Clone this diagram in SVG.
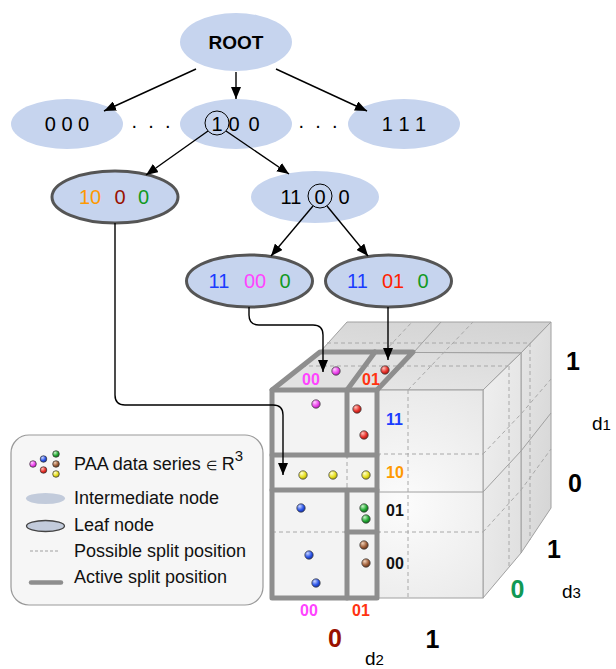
<svg xmlns="http://www.w3.org/2000/svg" width="616" height="669" viewBox="0 0 616 669">
  <defs>
    <marker id="arrow" viewBox="0 0 12 10" refX="12" refY="5" markerWidth="12" markerHeight="10" markerUnits="userSpaceOnUse" orient="auto">
      <path d="M0,0 L12,5 L0,10 z" fill="#000"/>
    </marker>
    <linearGradient id="gTopBack" x1="0" y1="1" x2="1" y2="0">
      <stop offset="0" stop-color="#dedede"/>
      <stop offset="1" stop-color="#d2d2d2"/>
    </linearGradient>
    <linearGradient id="gTopFront" x1="0" y1="1" x2="1" y2="0">
      <stop offset="0" stop-color="#e9e9e9"/>
      <stop offset="1" stop-color="#dadada"/>
    </linearGradient>
    <linearGradient id="gSideFront" x1="0" y1="0" x2="1" y2="1">
      <stop offset="0" stop-color="#f0f0f0"/>
      <stop offset="1" stop-color="#dedede"/>
    </linearGradient>
    <linearGradient id="gSideBack" x1="0" y1="0" x2="1" y2="1">
      <stop offset="0" stop-color="#e6e6e6"/>
      <stop offset="1" stop-color="#d4d4d4"/>
    </linearGradient>
    <radialGradient id="gFront" cx="0.62" cy="0.55" r="0.75">
      <stop offset="0" stop-color="#fcfcfc"/>
      <stop offset="1" stop-color="#e4e4e4"/>
    </radialGradient>
    <radialGradient id="dMag" cx="0.35" cy="0.3" r="0.75"><stop offset="0" stop-color="#ffd0ff"/><stop offset="0.6" stop-color="#ee44ee"/><stop offset="1" stop-color="#aa22aa"/></radialGradient>
    <radialGradient id="dRed" cx="0.35" cy="0.3" r="0.75"><stop offset="0" stop-color="#ffc0b8"/><stop offset="0.6" stop-color="#e8302a"/><stop offset="1" stop-color="#a01810"/></radialGradient>
    <radialGradient id="dYel" cx="0.35" cy="0.3" r="0.75"><stop offset="0" stop-color="#ffffd0"/><stop offset="0.6" stop-color="#e8e020"/><stop offset="1" stop-color="#a8a010"/></radialGradient>
    <radialGradient id="dBlu" cx="0.35" cy="0.3" r="0.75"><stop offset="0" stop-color="#c8d4ff"/><stop offset="0.6" stop-color="#2b55e8"/><stop offset="1" stop-color="#1530a0"/></radialGradient>
    <radialGradient id="dGrn" cx="0.35" cy="0.3" r="0.75"><stop offset="0" stop-color="#c8f5c8"/><stop offset="0.6" stop-color="#22aa33"/><stop offset="1" stop-color="#11661a"/></radialGradient>
    <radialGradient id="dBrn" cx="0.35" cy="0.3" r="0.75"><stop offset="0" stop-color="#f0d0b8"/><stop offset="0.6" stop-color="#a0603a"/><stop offset="1" stop-color="#603018"/></radialGradient>
  </defs>
  <style>
    .t{font-family:"Liberation Sans",Arial,Helvetica,sans-serif}
    .nt{font-size:20px;text-anchor:middle}
    .node{fill:#c6d4ee}
    .leaf{fill:#c6d4ee;stroke:#555;stroke-width:3}
    .ring{fill:none;stroke:#000;stroke-width:1}
    .edge{fill:none;stroke:#000;stroke-width:1.4}
    .ln{fill:none;stroke:#a0a0a0;stroke-width:1}
    .ds{fill:none;stroke:#a8a8a8;stroke-width:1;stroke-dasharray:4 3}
    .thick{fill:none;stroke:#8e8e8e;stroke-width:5;stroke-linejoin:round;stroke-linecap:round}
    .dot{stroke:#333;stroke-width:0.7}
    .cl{font-size:16px;font-weight:bold}
    .ax{font-size:25px;font-weight:bold;text-anchor:middle}
    .dl{font-size:19px}
    .lg{font-size:18px;fill:#111}
  </style>

  <!-- tree nodes -->
  <g id="root">
    <ellipse class="node" cx="236" cy="42" rx="56" ry="29"/>
    <text class="t" x="236" y="49" font-size="19" font-weight="bold" text-anchor="middle">ROOT</text>
  </g>
  <g id="n000">
    <ellipse class="node" cx="67" cy="124" rx="56" ry="25"/>
    <text class="t nt" x="67" y="131">0 0 0</text>
  </g>
  <g id="n100">
    <ellipse class="node" cx="236" cy="124" rx="56" ry="25"/>
    <text class="t nt" x="217" y="131">1</text>
    <text class="t nt" x="234" y="131">0</text>
    <text class="t nt" x="254" y="131">0</text>
    <circle class="ring" cx="217" cy="123" r="12"/>
  </g>
  <g id="n111">
    <ellipse class="node" cx="404" cy="124" rx="56" ry="25"/>
    <text class="t nt" x="404" y="131">1 1 1</text>
  </g>
  <g id="ellipsis">
    <text class="t nt" x="151" y="128">.&#160;&#160;.&#160;&#160;.</text>
    <text class="t nt" x="318" y="128">.&#160;&#160;.&#160;&#160;.</text>
  </g>
  <g id="leaf1000">
    <ellipse class="leaf" cx="115" cy="197" rx="63" ry="26"/>
    <text class="t nt" x="90" y="204" fill="#ff9900">10</text>
    <text class="t nt" x="120" y="204" fill="#991100">0</text>
    <text class="t nt" x="143.5" y="204" fill="#119922">0</text>
  </g>
  <g id="n1100">
    <ellipse class="node" cx="315" cy="197" rx="64" ry="26"/>
    <text class="t nt" x="291" y="204">11</text>
    <text class="t nt" x="320" y="204">0</text>
    <text class="t nt" x="344" y="204">0</text>
    <circle class="ring" cx="320" cy="196" r="12"/>
  </g>
  <g id="leaf11000">
    <ellipse class="leaf" cx="249.5" cy="281" rx="63" ry="26"/>
    <text class="t nt" x="219" y="288" fill="#1a3cff">11</text>
    <text class="t nt" x="255" y="288" fill="#ff44ff">00</text>
    <text class="t nt" x="285" y="288" fill="#119922">0</text>
  </g>
  <g id="leaf11010">
    <ellipse class="leaf" cx="388.5" cy="281" rx="63" ry="26"/>
    <text class="t nt" x="357.5" y="288" fill="#1a3cff">11</text>
    <text class="t nt" x="393" y="288" fill="#ff2200">01</text>
    <text class="t nt" x="423" y="288" fill="#119922">0</text>
  </g>

  <!-- cube of the 3-dimensional space -->
  <g id="cube">
    <polygon points="320,352 521,353 551,322 347,322" fill="url(#gTopBack)" stroke="#a0a0a0"/>
    <polygon points="521,353 551,322 551,508 521,553" fill="url(#gSideBack)" stroke="#a0a0a0"/>
    <polygon points="272,390 483,390 521,353 320,352" fill="url(#gTopFront)" stroke="#a0a0a0"/>
    <polygon points="483,390 521,353 521,553 483,598" fill="url(#gSideFront)" stroke="#a0a0a0"/>
    <rect x="272" y="390" width="211" height="208" fill="url(#gFront)" stroke="#a0a0a0"/>

    <!-- first-level splits on the visible faces -->
    <path class="ln" d="M414,352 L441,322"/>
    <path class="ln" d="M483,492 L521,451 L551,413"/>
    <path class="ln" d="M377,492 H483"/>

    <!-- possible split positions -->
    <path class="ds" d="M408,390 L473,322"/>
    <path class="ds" d="M384,352 L412,322"/>
    <path class="ds" d="M327,343 H531"/>
    <path class="ds" d="M509,366 V567"/>
    <path class="ds" d="M530,343 V540"/>
    <path class="ds" d="M483,454 L521,414 L551,379"/>
    <path class="ds" d="M483,532 L521,490 L551,449"/>
    <path class="ds" d="M377,454 H483"/>
    <path class="ds" d="M377,532 H483"/>
    <path class="ds" d="M408,390 V598"/>

    <!-- active partition block -->
    <rect x="272" y="390" width="105" height="208" fill="#f3f3f3"/>
    <polygon points="272,390 320,352 413,352 377,390" fill="#e2e2e2"/>
    <path class="ds" d="M302,366 H508"/>
    <path class="ds" d="M347,455 V490"/>
    <path class="ds" d="M272,532 H347"/>

    <path class="thick" d="M272,390 L272,598 L377,598 L377,390 Z"/>
    <path class="thick" d="M272,390 L320,352 L413,352 L377,390"/>
    <path class="thick" d="M347,390 L375,352"/>
    <path class="thick" d="M272,455 H377 M272,490 H377 M347,532 H377"/>
    <path class="thick" d="M347,390 V455 M347,490 V598"/>

    <!-- data series -->
    <circle class="dot" cx="336" cy="371" r="4.2" fill="url(#dMag)"/>
    <circle class="dot" cx="316" cy="404" r="4.2" fill="url(#dMag)"/>
    <circle class="dot" cx="385" cy="370" r="4.2" fill="url(#dRed)"/>
    <circle class="dot" cx="357" cy="409" r="4.2" fill="url(#dRed)"/>
    <circle class="dot" cx="364" cy="435" r="4.2" fill="url(#dRed)"/>
    <circle class="dot" cx="303" cy="475" r="4.2" fill="url(#dYel)"/>
    <circle class="dot" cx="333" cy="475" r="4.2" fill="url(#dYel)"/>
    <circle class="dot" cx="366" cy="475" r="4.2" fill="url(#dYel)"/>
    <circle class="dot" cx="301" cy="508" r="4.2" fill="url(#dBlu)"/>
    <circle class="dot" cx="309" cy="555" r="4.2" fill="url(#dBlu)"/>
    <circle class="dot" cx="316" cy="583" r="4.2" fill="url(#dBlu)"/>
    <circle class="dot" cx="364" cy="508" r="4.2" fill="url(#dGrn)"/>
    <circle class="dot" cx="366" cy="519" r="4.2" fill="url(#dGrn)"/>
    <circle class="dot" cx="364" cy="545" r="4.2" fill="url(#dBrn)"/>
    <circle class="dot" cx="366" cy="563" r="4.2" fill="url(#dBrn)"/>

    <!-- cell labels -->
    <text class="t cl" x="302" y="385" fill="#ff44ff">00</text>
    <text class="t cl" x="362" y="385" fill="#ff3311">01</text>
    <text class="t cl" x="386" y="425" fill="#1a3cff">11</text>
    <text class="t cl" x="386" y="478" fill="#ff9900">10</text>
    <text class="t cl" x="386" y="516" fill="#111">01</text>
    <text class="t cl" x="386" y="569" fill="#111">00</text>
    <text class="t cl" x="300" y="616" fill="#ff44ff" font-size="15">00</text>
    <text class="t cl" x="352" y="616" fill="#ff3311" font-size="15">01</text>
  </g>

  <!-- axis labels -->
  <g id="axes">
    <text class="t ax" x="573" y="370">1</text>
    <text class="t ax" x="575" y="492">0</text>
    <text class="t dl" x="592" y="430">d<tspan font-size="15">1</tspan></text>
    <text class="t ax" x="554" y="558">1</text>
    <text class="t ax" x="517.5" y="598" fill="#119955">0</text>
    <text class="t dl" x="562" y="598">d<tspan font-size="15">3</tspan></text>
    <text class="t ax" x="335" y="647" fill="#991100">0</text>
    <text class="t ax" x="432.5" y="648">1</text>
    <text class="t dl" x="365" y="665">d<tspan font-size="15">2</tspan></text>
  </g>

  <!-- connectors -->
  <g id="connectors">
    <path class="edge" d="M196,69 L104,111" marker-end="url(#arrow)"/>
    <path class="edge" d="M236,72 L236,99" marker-end="url(#arrow)"/>
    <path class="edge" d="M276,69 L367,111" marker-end="url(#arrow)"/>
    <path class="edge" d="M208,131 L146,175" marker-end="url(#arrow)"/>
    <path class="edge" d="M226,131 L289,174" marker-end="url(#arrow)"/>
    <path class="edge" d="M313,206 L271,256" marker-end="url(#arrow)"/>
    <path class="edge" d="M327,206 L368,256" marker-end="url(#arrow)"/>
    <path class="edge" d="M115,223 V395 Q115,405 125,405 H273 Q283,405 283,415 V475" marker-end="url(#arrow)"/>
    <path class="edge" d="M249,307 V315 Q249,325 259,325 H313 Q323,325 323,335 V372" marker-end="url(#arrow)"/>
    <path class="edge" d="M388,307 V360" marker-end="url(#arrow)"/>
  </g>

  <!-- legend -->
  <g id="legend">
    <rect x="11" y="435" width="252" height="170" rx="18" fill="#f6f6f6" stroke="#999" stroke-width="1.2"/>
    <circle class="dot" cx="33" cy="464" r="3.3" fill="url(#dMag)"/>
    <circle class="dot" cx="43.5" cy="459" r="3.3" fill="url(#dBlu)"/>
    <circle class="dot" cx="43.5" cy="470" r="3.3" fill="url(#dRed)"/>
    <circle class="dot" cx="56" cy="454" r="3.3" fill="url(#dGrn)"/>
    <circle class="dot" cx="56" cy="464" r="3.3" fill="url(#dBrn)"/>
    <circle class="dot" cx="56" cy="474" r="3.3" fill="url(#dYel)"/>
    <text class="t lg" x="74" y="470">PAA data series <tspan font-size="13">∈</tspan> R<tspan font-size="15" dy="-9">3</tspan></text>
    <ellipse cx="45.5" cy="498.5" rx="19.5" ry="5.5" fill="#c2cbdb"/>
    <text class="t lg" x="74" y="504">Intermediate node</text>
    <ellipse cx="45.5" cy="526" rx="19" ry="5.5" fill="#c2cbdb" stroke="#444" stroke-width="1.3"/>
    <text class="t lg" x="74" y="531">Leaf node</text>
    <path d="M30,551 H60" stroke="#a0a0a0" stroke-width="1" stroke-dasharray="3 2"/>
    <text class="t lg" x="74" y="557">Possible split position</text>
    <path d="M31,582.5 H61" stroke="#8e8e8e" stroke-width="4.5" stroke-linecap="round"/>
    <text class="t lg" x="74" y="583">Active split position</text>
  </g>
</svg>
